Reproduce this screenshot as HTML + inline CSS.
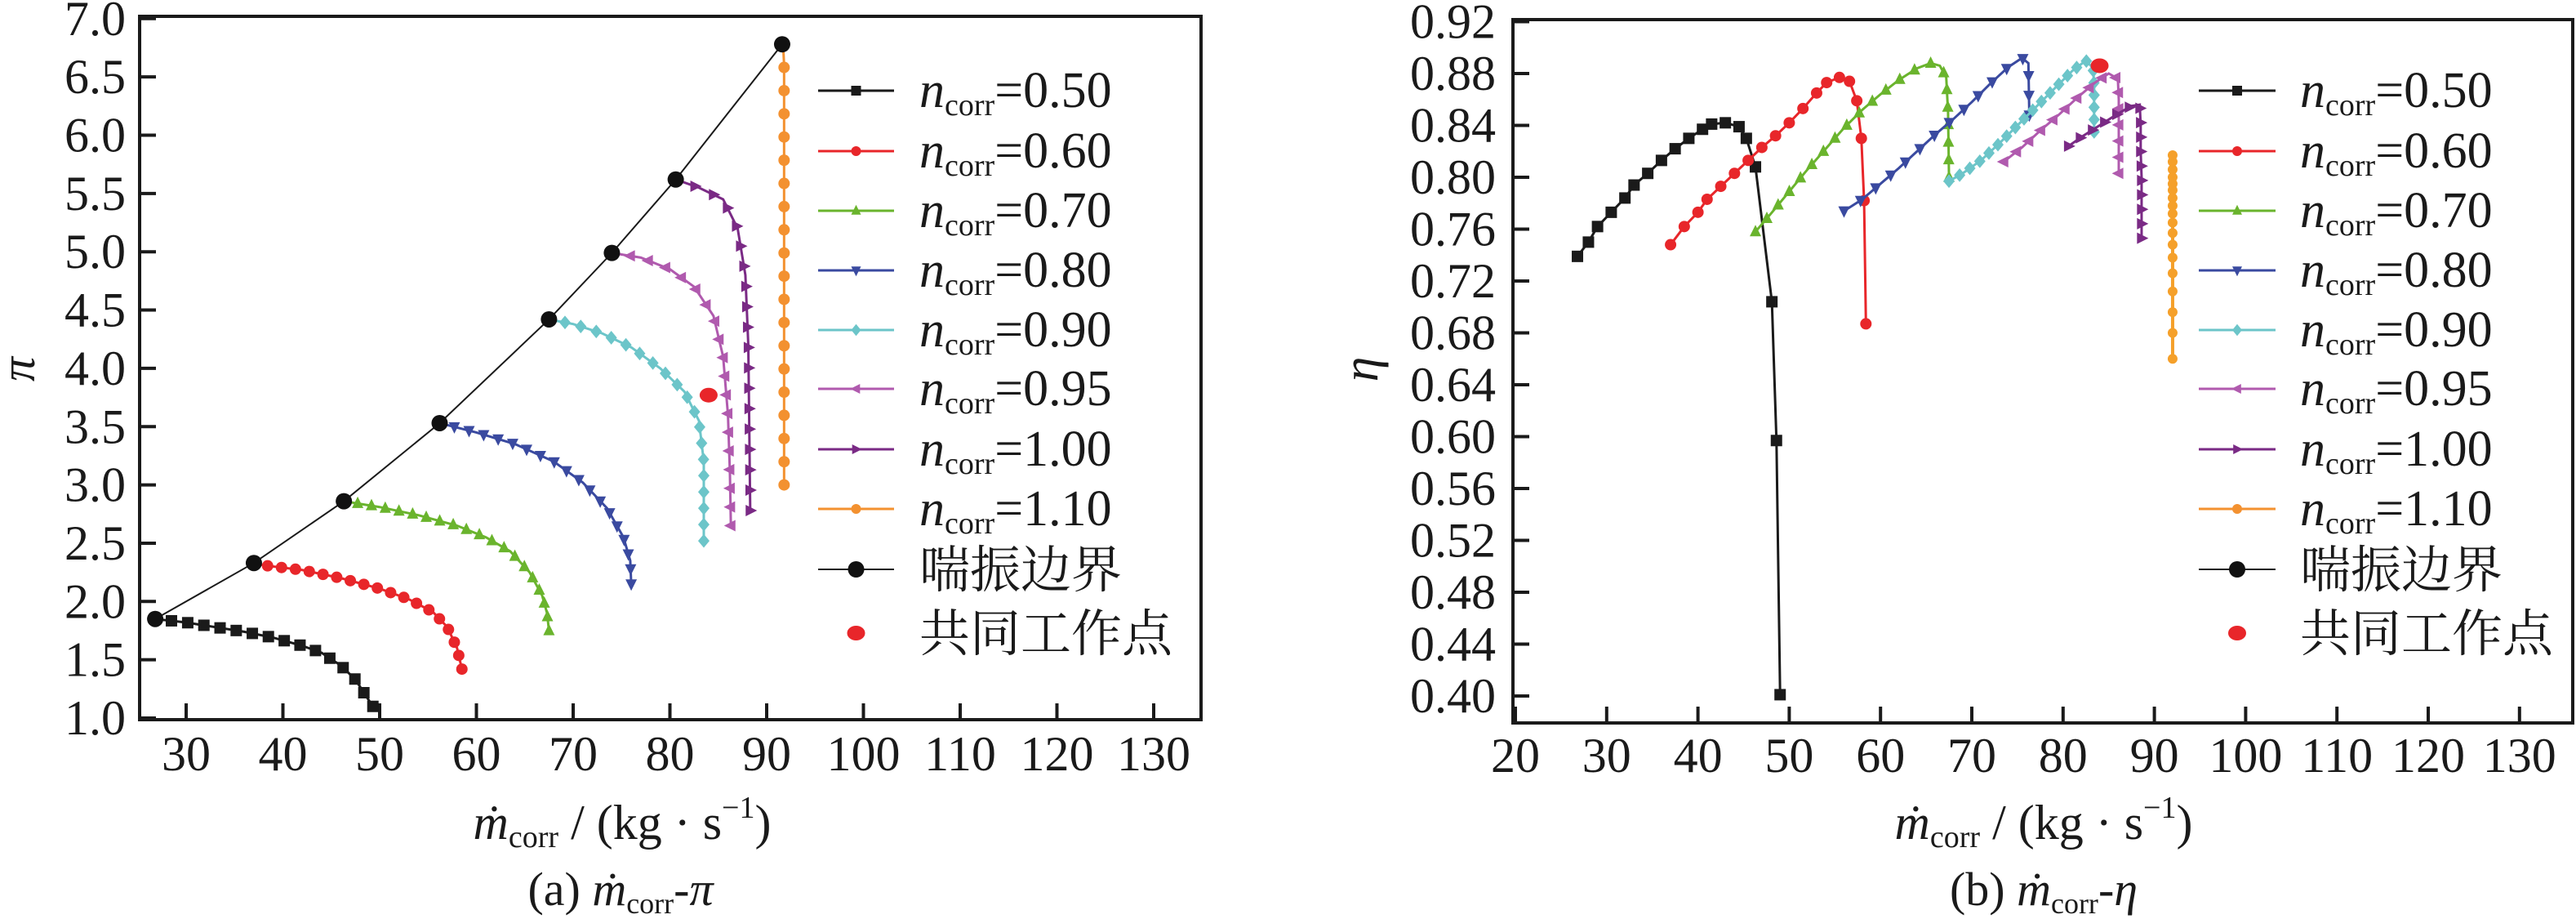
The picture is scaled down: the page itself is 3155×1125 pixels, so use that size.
<!DOCTYPE html>
<html><head><meta charset="utf-8"><style>
html,body{margin:0;padding:0;background:#fff;}
svg{display:block;}
text{font-family:"Liberation Serif","Noto Serif CJK SC",serif;fill:#1a1a1a;}
.cjk{font-family:"Noto Serif CJK SC","Noto Sans CJK SC",serif;}
</style></head><body>
<svg id="s" width="3155" height="1125" viewBox="0 0 3155 1125" xmlns="http://www.w3.org/2000/svg" font-family="Liberation Serif, serif"></svg>
<script>
const S=document.getElementById('s');let h='';
const C={k:'#1a1a1a',r:'#e8262a',g:'#6ab42d',b:'#3a4aa0',c:'#6cc5c9',m:'#b05aae',p:'#7a2a85',o:'#f39130'};
function mk(t,x,y,col,s){s=s||7;
 if(t=='sq')return `<rect x="${x-s}" y="${y-s}" width="${2*s}" height="${2*s}" fill="${col}"/>`;
 if(t=='ci')return `<circle cx="${x}" cy="${y}" r="${s}" fill="${col}"/>`;
 if(t=='up')return `<polygon points="${x},${y-s*1.2} ${x-s},${y+s*0.8} ${x+s},${y+s*0.8}" fill="${col}"/>`;
 if(t=='dn')return `<polygon points="${x},${y+s*1.2} ${x-s},${y-s*0.8} ${x+s},${y-s*0.8}" fill="${col}"/>`;
 if(t=='lf')return `<polygon points="${x-s*1.2},${y} ${x+s*0.8},${y-s} ${x+s*0.8},${y+s}" fill="${col}"/>`;
 if(t=='rt')return `<polygon points="${x+s*1.2},${y} ${x-s*0.8},${y-s} ${x-s*0.8},${y+s}" fill="${col}"/>`;
 if(t=='di')return `<polygon points="${x},${y-s*1.2} ${x+s},${y} ${x},${y+s*1.2} ${x-s},${y}" fill="${col}"/>`;
}
function interp(pts,n){
 let d=[0];for(let i=1;i<pts.length;i++){d.push(d[i-1]+Math.hypot(pts[i][0]-pts[i-1][0],pts[i][1]-pts[i-1][1]));}
 const L=d[d.length-1],out=[];for(let k=0;k<n;k++){const t=L*k/(n-1);let i=1;while(i<d.length-1&&d[i]<t)i++;const f=(t-d[i-1])/((d[i]-d[i-1])||1);out.push([pts[i-1][0]+f*(pts[i][0]-pts[i-1][0]),pts[i-1][1]+f*(pts[i][1]-pts[i-1][1])]);}return out;}
function series(data,X,Y,col,t,n,sw){const p=data.map(a=>[X(a[0]),Y(a[1])]);
 h+=`<polyline points="${p.map(a=>a.join(',')).join(' ')}" fill="none" stroke="${col}" stroke-width="${sw||3}"/>`;
 (n?interp(p,n):p).forEach(a=>h+=mk(t,a[0],a[1],col));}
function axes(x0,x1,y0,y1){h+=`<rect x="${x0}" y="${y0}" width="${x1-x0}" height="${y1-y0}" fill="none" stroke="#1a1a1a" stroke-width="4"/>`;}
// ---------- LEFT ----------
const XL=m=>228+(m-30)*11.85, YL=p=>879-(p-1)*142.7;
axes(171,1471,20,881);
for(let v=30;v<=130;v+=10){const x=XL(v);h+=`<line x1="${x}" y1="881" x2="${x}" y2="861" stroke="#1a1a1a" stroke-width="4"/><text x="${x}" y="943" font-size="60" text-anchor="middle">${v}</text>`;}
for(let i=0;i<=12;i++){const v=1+i*0.5,y=YL(v);h+=`<line x1="171" y1="${y}" x2="191" y2="${y}" stroke="#1a1a1a" stroke-width="4"/><text x="154" y="${y+20}" font-size="60" text-anchor="end">${v.toFixed(1)}</text>`;}
h+=`<text x="22" y="452" font-size="60" font-style="italic" transform="rotate(-90 22 452)" text-anchor="middle" dy="20">π</text>`;
const L={
 k:[[26.8,1.85],[30,1.82],[33,1.78],[36,1.74],[39,1.69],[42,1.62],[44,1.56],[46,1.45],[47.5,1.33],[48.5,1.2],[49.3,1.1]],
 r:[[37,2.33],[38,2.31],[42,2.27],[46,2.2],[50,2.11],[53,2.02],[55.5,1.91],[57,1.78],[58,1.6],[58.5,1.42]],
 g:[[46.3,2.86],[50,2.81],[54,2.74],[58,2.65],[61,2.55],[63.5,2.43],[65.5,2.25],[66.8,2.05],[67.3,1.9],[67.5,1.75]],
 b:[[56.2,3.53],[60,3.45],[64,3.35],[68,3.2],[71,3.02],[73.5,2.8],[75.2,2.55],[75.9,2.35],[76,2.15]],
 c:[[67.5,4.42],[70,4.38],[73,4.3],[76,4.18],[79,4.0],[81.5,3.8],[83,3.55],[83.5,3.2],[83.5,2.8],[83.5,2.52]],
 m:[[74,4.99],[77,4.95],[80,4.85],[82.5,4.7],[84.5,4.45],[85.5,4.1],[86,3.6],[86.2,3.1],[86.3,2.65]],
 p:[[80.6,5.62],[83,5.55],[85.5,5.45],[87,5.2],[87.8,4.8],[88.1,4.2],[88.2,3.5],[88.3,2.78]],
 o:[[91.7,6.78],[91.8,6.6],[91.8,3.0]]};
const mt={k:'sq',r:'ci',g:'up',b:'dn',c:'di',m:'lf',p:'rt',o:'ci'};
const nl={k:16,r:19,g:20,b:19,c:20,m:19,p:19,o:20};
for(const k in L)series(L[k],XL,YL,C[k],mt[k],nl[k]);
const surge=[[26.8,1.85],[37,2.33],[46.3,2.86],[56.2,3.53],[67.5,4.42],[74,4.99],[80.6,5.62],[91.6,6.78]];
h+=`<polyline points="${surge.map(a=>XL(a[0])+','+YL(a[1])).join(' ')}" fill="none" stroke="#1a1a1a" stroke-width="2"/>`;
surge.forEach(a=>h+=mk('ci',XL(a[0]),YL(a[1]),'#111',10));
h+=`<ellipse cx="${XL(84)}" cy="${YL(3.77)}" rx="11" ry="9" fill="${C.r}"/>`;
// ---------- RIGHT ----------
const XR=m=>1856+(m-20)*11.18, YR=e=>852-(e-0.40)*1587.5;
axes(1853,3151,24,885);
for(let v=20;v<=130;v+=10){const x=XR(v);h+=`<line x1="${x}" y1="885" x2="${x}" y2="865" stroke="#1a1a1a" stroke-width="4"/><text x="${x}" y="945" font-size="60" text-anchor="middle">${v}</text>`;}
for(let i=0;i<=13;i++){const v=0.40+i*0.04,y=YR(v);h+=`<line x1="1853" y1="${y}" x2="1873" y2="${y}" stroke="#1a1a1a" stroke-width="4"/><text x="1832" y="${y+20}" font-size="60" text-anchor="end">${v.toFixed(2)}</text>`;}
h+=`<text x="1669" y="452" font-size="62" font-style="italic" transform="rotate(-90 1669 452)" text-anchor="middle" dy="18">η</text>`;
const R={
 k:[[26.8,0.739],[28,0.75],[29,0.762],[30.5,0.773],[32,0.784],[33,0.794],[34.5,0.803],[36,0.813],[37.5,0.822],[39,0.83],[40.5,0.837],[41.5,0.841],[43,0.842],[44.5,0.839],[45.3,0.83],[46.3,0.808],[48.1,0.704],[48.6,0.597],[49,0.401]],
 r:[[37,0.748],[38.5,0.762],[40,0.773],[41,0.783],[42.5,0.793],[44,0.803],[45.5,0.813],[47,0.823],[48.5,0.832],[50,0.842],[51.5,0.853],[53,0.865],[54.1,0.873],[55.5,0.877],[56.6,0.874],[57.4,0.859],[57.9,0.83],[58.2,0.782],[58.4,0.687]],
 g:[[46.3,0.758],[48,0.772],[50,0.789],[52,0.806],[54,0.822],[56,0.838],[58,0.852],[60,0.864],[62,0.875],[64,0.884],[65.5,0.888],[66.5,0.886],[67.2,0.877],[67.4,0.85],[67.5,0.8]],
 b:[[56,0.774],[58,0.783],[60,0.795],[62,0.807],[64,0.82],[66,0.833],[68,0.845],[70,0.858],[72,0.872],[74,0.885],[75.5,0.892],[76.2,0.888],[76.3,0.848]],
 c:[[67.5,0.797],[69,0.803],[71,0.813],[73,0.826],[75,0.84],[77,0.854],[79,0.868],[81,0.882],[82.5,0.89],[83.3,0.884],[83.4,0.87],[83.4,0.855],[83.4,0.835]],
 m:[[73.5,0.812],[75.5,0.823],[77.5,0.836],[79.5,0.848],[81.5,0.861],[83.5,0.873],[85,0.88],[86,0.876],[86.1,0.86],[86.1,0.84],[86.1,0.803]],
 p:[[80.6,0.824],[82,0.831],[84,0.84],[86,0.849],[87.5,0.855],[88.4,0.856],[88.5,0.84],[88.5,0.82],[88.6,0.8],[88.6,0.753]]};
const nr={k:0,r:0,g:22,b:16,c:22,m:16,p:16};
for(const k in R)series(R[k],XR,YR,C[k],mt[k],nr[k]);
const oc='#f5a02a';
h+=`<polyline points="${XR(91.8)},${YR(0.817)} ${XR(92.0)},${YR(0.80)} ${XR(92.0)},${YR(0.66)}" fill="none" stroke="${oc}" stroke-width="4"/>`;
[0.817,0.812,0.806,0.80,0.795,0.79,0.784,0.778,0.772,0.765,0.757,0.748,0.738,0.726,0.712,0.696,0.68,0.66].forEach(e=>h+=mk('ci',XR(92),YR(e),oc,6));
h+=`<ellipse cx="${XR(84)}" cy="${YR(0.886)}" rx="11" ry="9" fill="${C.r}"/>`;
// ---------- LEGENDS ----------
function legend(lx1,lx2,tx){const keys=['k','r','g','b','c','m','p','o'],vals=['0.50','0.60','0.70','0.80','0.90','0.95','1.00','1.10'];
 const ys=[111,185,258,331,404,476,550,623];
 keys.forEach((k,i)=>{const y=ys[i],col=C[k],xm=(lx1+lx2)/2;
  h+=`<line x1="${lx1}" y1="${y}" x2="${lx2}" y2="${y}" stroke="${col}" stroke-width="3"/>`+mk(mt[k],xm,y,col,6);
  h+=`<text x="${tx}" y="${y+20}" font-size="62"><tspan font-style="italic">n</tspan><tspan font-size="38" dy="10">corr</tspan><tspan dy="-10">=${vals[i]}</tspan></text>`;});
 h+=`<line x1="${lx1}" y1="697" x2="${lx2}" y2="697" stroke="#1a1a1a" stroke-width="2"/>`+mk('ci',(lx1+lx2)/2,697,'#111',10);
 h+=`<text class="cjk" x="${tx}" y="719" font-size="62">喘振边界</text>`;
 h+=`<ellipse cx="${(lx1+lx2)/2}" cy="775" rx="11" ry="9" fill="${C.r}"/>`;
 h+=`<text class="cjk" x="${tx}" y="797" font-size="62">共同工作点</text>`;}
legend(1002,1095,1126);
legend(2693,2787,2817);
// ---------- LABELS ----------
function xl(cx,y){return `<text x="${cx}" y="${y}" font-size="60" text-anchor="middle"><tspan font-style="italic">ṁ</tspan><tspan font-size="38" dy="10">corr</tspan><tspan dy="-10"> / (kg · s</tspan><tspan font-size="38" dy="-26">−1</tspan><tspan dy="26">)</tspan></text>`;}
h+=xl(762,1027)+xl(2503,1027);
h+=`<text x="760" y="1108" font-size="58" text-anchor="middle">(a) <tspan font-style="italic">ṁ</tspan><tspan font-size="36" dy="10">corr</tspan><tspan dy="-10">-</tspan><tspan font-style="italic">π</tspan></text>`;
h+=`<text x="2503" y="1108" font-size="58" text-anchor="middle">(b) <tspan font-style="italic">ṁ</tspan><tspan font-size="36" dy="10">corr</tspan><tspan dy="-10">-</tspan><tspan font-style="italic">η</tspan></text>`;
S.innerHTML=h;
</script>
</body></html>
